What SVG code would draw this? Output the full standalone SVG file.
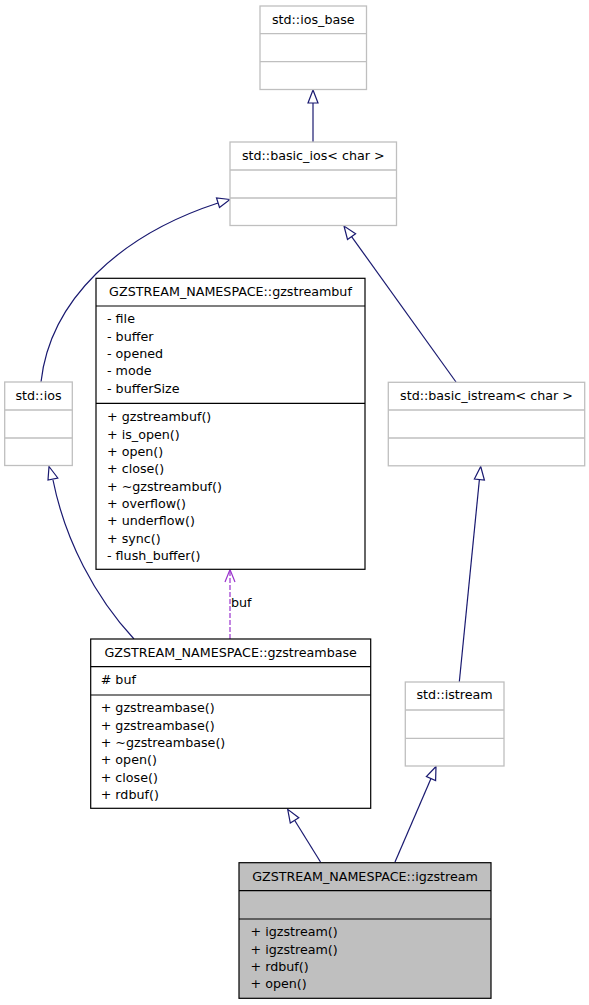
<svg xmlns="http://www.w3.org/2000/svg" width="589" height="1005" viewBox="0 0 589 1005">
<style>
  text { font-family: "DejaVu Sans", "Liberation Sans", sans-serif; font-size: 12.7px; fill: #000; }
  .c { text-anchor: middle; }
  .ext rect, .ext line { stroke: #bfbfbf; stroke-width: 1.3; fill: #fff; }
  .cls rect, .cls line { stroke: #000; stroke-width: 1.2; fill: #fff; }
  .cur rect { fill: #bfbfbf; }
  .e { fill: none; stroke: #191970; stroke-width: 1.2; }
  .ah { fill: #fff; stroke: #191970; stroke-width: 1.2; }
  .u { fill: none; stroke: #9a32cd; stroke-width: 1.2; }
</style>
<rect width="589" height="1005" fill="#fff"/>
<g id="connectors">
  <!-- basic_ios -> ios_base -->
  <line class="e" x1="313" y1="142" x2="313" y2="103"/>
  <polygon class="ah" points="313,90 308,103 318,103"/>
  <!-- ios -> basic_ios -->
  <path class="e" d="M41,382 C50,300 120,235 218,203"/>
  <polygon class="ah" points="230,199.5 216.5,198 219.5,207.5"/>
  <!-- basic_istream -> basic_ios -->
  <line class="e" x1="456" y1="382" x2="351.6" y2="236.6"/>
  <polygon class="ah" points="344,226 347.5,239.5 355.6,233.7"/>
  <!-- gzstreambase -> ios -->
  <path class="e" d="M134,639 C95,597 65,540 53,480"/>
  <polygon class="ah" points="49,466.5 48,480 57.8,478"/>
  <!-- gzstreambase -> gzstreambuf (usage) -->
  <line class="u" x1="230" y1="639" x2="230" y2="571" stroke-dasharray="5,2"/>
  <polyline class="u" points="225,582 230,569.5 235,582"/>
  <text x="231" y="607">buf</text>
  <!-- igzstream -> gzstreambase -->
  <line class="e" x1="320.5" y1="862" x2="294.6" y2="820.3"/>
  <polygon class="ah" points="287.7,809.3 290.3,823 298.8,817.7"/>
  <!-- igzstream -> istream -->
  <line class="e" x1="395" y1="862" x2="431" y2="778.5"/>
  <polygon class="ah" points="436,766.5 426.4,776.5 435.6,780.5"/>
  <!-- istream -> basic_istream -->
  <line class="e" x1="459.3" y1="682" x2="479.4" y2="479.5"/>
  <polygon class="ah" points="480.7,466.5 474.4,479 484.4,480"/>
</g>
<g id="ios_base" class="ext">
  <rect x="260" y="6" width="106.5" height="83.5"/>
  <line x1="260" y1="33.7" x2="366.5" y2="33.7"/>
  <line x1="260" y1="61.7" x2="366.5" y2="61.7"/>
  <text class="c" x="313.3" y="23.5">std::ios_base</text>
</g>
<g id="basic_ios" class="ext">
  <rect x="230" y="142" width="166.5" height="83.5"/>
  <line x1="230" y1="170" x2="396.5" y2="170"/>
  <line x1="230" y1="198" x2="396.5" y2="198"/>
  <text class="c" x="313.3" y="160">std::basic_ios&lt; char &gt;</text>
</g>
<g id="ios" class="ext">
  <rect x="4.7" y="382" width="67.6" height="83.5"/>
  <line x1="4.7" y1="410" x2="72.3" y2="410"/>
  <line x1="4.7" y1="438" x2="72.3" y2="438"/>
  <text class="c" x="38.5" y="400">std::ios</text>
</g>
<g id="basic_istream" class="ext">
  <rect x="388.3" y="382.3" width="196.4" height="83.5"/>
  <line x1="388.3" y1="410" x2="584.7" y2="410"/>
  <line x1="388.3" y1="438" x2="584.7" y2="438"/>
  <text class="c" x="486.5" y="400">std::basic_istream&lt; char &gt;</text>
</g>
<g id="istream" class="ext">
  <rect x="405.3" y="682" width="98.7" height="84"/>
  <line x1="405.3" y1="710" x2="504" y2="710"/>
  <line x1="405.3" y1="738.3" x2="504" y2="738.3"/>
  <text class="c" x="454.6" y="699">std::istream</text>
</g>
<g id="gzstreambuf" class="cls">
  <rect x="96" y="278.3" width="269" height="291"/>
  <line x1="96" y1="306" x2="365" y2="306"/>
  <line x1="96" y1="403.3" x2="365" y2="403.3"/>
  <text class="c" x="230.5" y="296">GZSTREAM_NAMESPACE::gzstreambuf</text>
  <text x="107" y="323.3">- file</text>
  <text x="107" y="340.6">- buffer</text>
  <text x="107" y="358">- opened</text>
  <text x="107" y="375.3">- mode</text>
  <text x="107" y="392.6">- bufferSize</text>
  <text x="107" y="421.3">+ gzstreambuf()</text>
  <text x="107" y="438.6">+ is_open()</text>
  <text x="107" y="456">+ open()</text>
  <text x="107" y="473.3">+ close()</text>
  <text x="107" y="490.6">+ ~gzstreambuf()</text>
  <text x="107" y="508">+ overflow()</text>
  <text x="107" y="525.3">+ underflow()</text>
  <text x="107" y="542.6">+ sync()</text>
  <text x="107" y="560">- flush_buffer()</text>
</g>
<g id="gzstreambase" class="cls">
  <rect x="90.7" y="639" width="280" height="169.3"/>
  <line x1="90.7" y1="666.7" x2="370.7" y2="666.7"/>
  <line x1="90.7" y1="695" x2="370.7" y2="695"/>
  <text class="c" x="230.7" y="656.7">GZSTREAM_NAMESPACE::gzstreambase</text>
  <text x="100.7" y="683.5"># buf</text>
  <text x="100.7" y="712.2">+ gzstreambase()</text>
  <text x="100.7" y="729.5">+ gzstreambase()</text>
  <text x="100.7" y="746.8">+ ~gzstreambase()</text>
  <text x="100.7" y="764.2">+ open()</text>
  <text x="100.7" y="781.5">+ close()</text>
  <text x="100.7" y="798.8">+ rdbuf()</text>
</g>
<g id="igzstream" class="cls cur">
  <rect x="239" y="862.7" width="252" height="135.6"/>
  <line x1="239" y1="890.7" x2="491" y2="890.7"/>
  <line x1="239" y1="919" x2="491" y2="919"/>
  <text class="c" x="365" y="880.7">GZSTREAM_NAMESPACE::igzstream</text>
  <text x="250.5" y="936.2">+ igzstream()</text>
  <text x="250.5" y="953.5">+ igzstream()</text>
  <text x="250.5" y="970.8">+ rdbuf()</text>
  <text x="250.5" y="988.2">+ open()</text>
</g>
</svg>
